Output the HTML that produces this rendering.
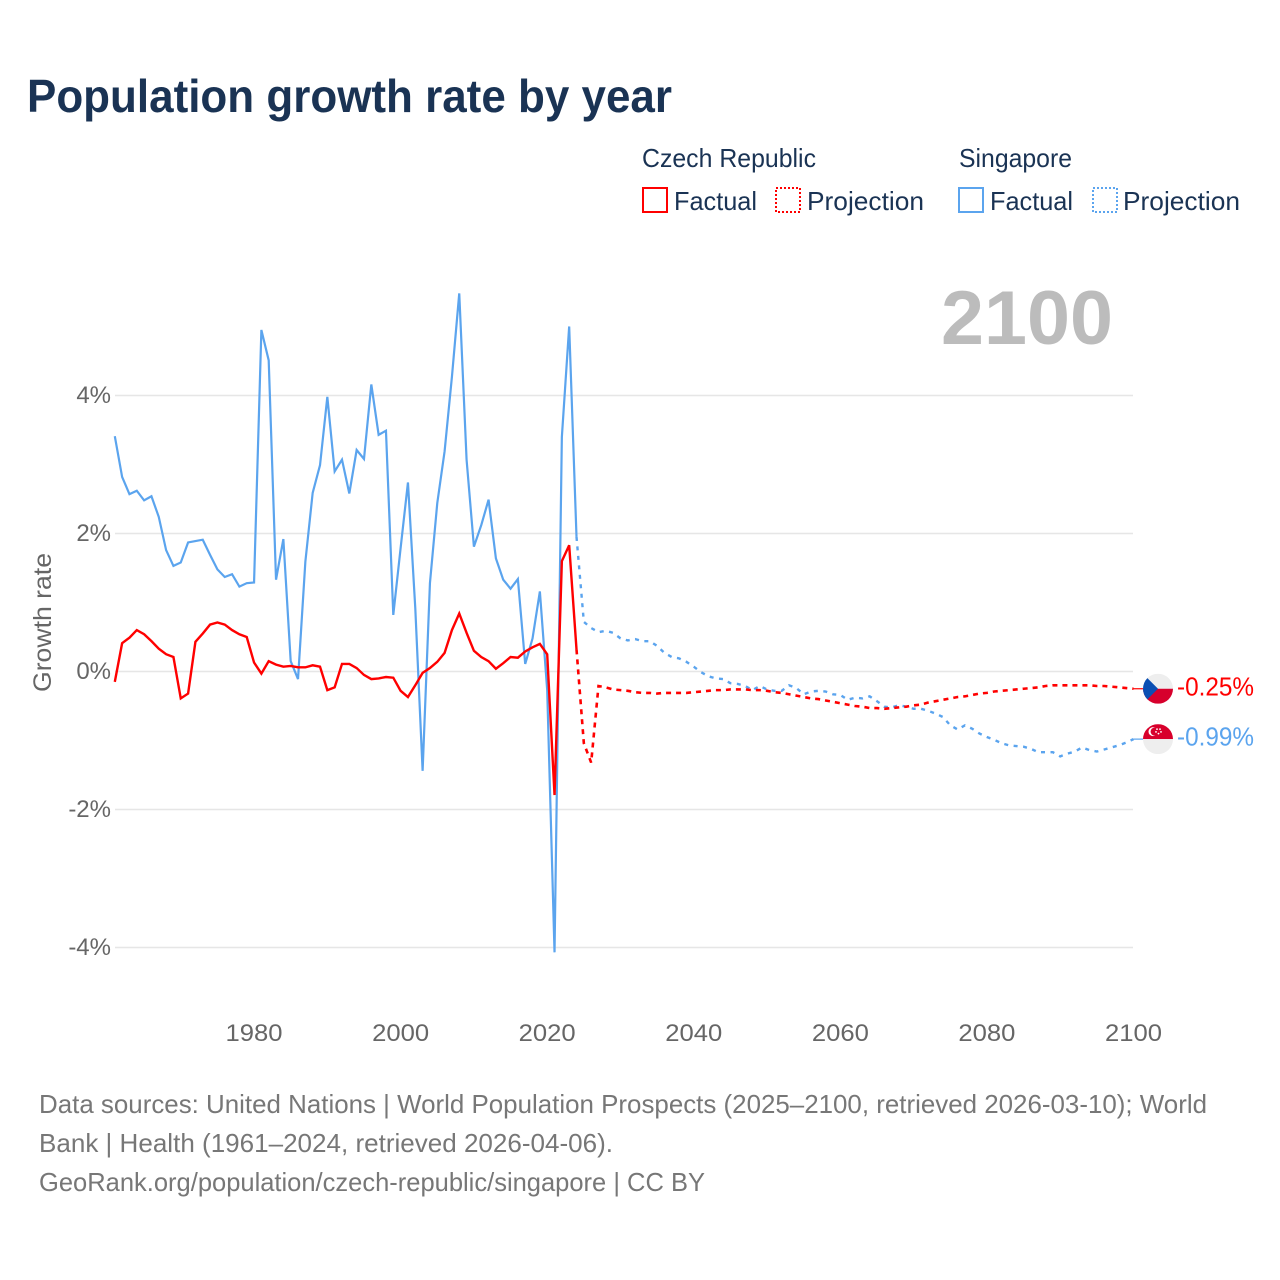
<!DOCTYPE html>
<html lang="en">
<head>
<meta charset="utf-8">
<title>Population growth rate by year</title>
<style>
html,body{margin:0;padding:0;background:#fff;width:1280px;height:1280px;overflow:hidden}
svg{display:block;font-family:"Liberation Sans",sans-serif}
</style>
</head>
<body>
<svg id="chart" xmlns="http://www.w3.org/2000/svg" width="1280" height="1280" viewBox="0 0 1280 1280">
  <defs>
    <clipPath id="flag-clip"><circle cx="0" cy="0" r="15"/></clipPath>
  </defs>
  <rect width="1280" height="1280" fill="#fff"/>
  <text x="27" y="112" font-size="46" font-weight="700" fill="#1a3354" textLength="645" lengthAdjust="spacingAndGlyphs">Population growth rate by year</text>

  <g font-size="26" fill="#1a3354">
    <text x="642" y="167" textLength="174" lengthAdjust="spacingAndGlyphs">Czech Republic</text>
    <text x="959" y="167" textLength="113" lengthAdjust="spacingAndGlyphs">Singapore</text>
    <rect x="643" y="188" width="24" height="24" fill="none" stroke="#ff0000" stroke-width="2"/>
    <text x="674" y="210" textLength="83" lengthAdjust="spacingAndGlyphs">Factual</text>
    <rect x="776" y="188" width="24" height="24" fill="none" stroke="#ff0000" stroke-width="2" stroke-dasharray="2 2"/>
    <text x="807" y="210" textLength="117" lengthAdjust="spacingAndGlyphs">Projection</text>
    <rect x="959" y="188" width="24" height="24" fill="none" stroke="#5ba4ee" stroke-width="2"/>
    <text x="990" y="210" textLength="83" lengthAdjust="spacingAndGlyphs">Factual</text>
    <rect x="1093" y="188" width="24" height="24" fill="none" stroke="#5ba4ee" stroke-width="2" stroke-dasharray="2 2"/>
    <text x="1123" y="210" textLength="117" lengthAdjust="spacingAndGlyphs">Projection</text>
  </g>

  <text x="941" y="344" font-size="76" font-weight="700" fill="#bcbcbc" textLength="172" lengthAdjust="spacingAndGlyphs">2100</text>
  <text transform="translate(51,692) rotate(-90)" font-size="25" fill="#666" textLength="139" lengthAdjust="spacingAndGlyphs">Growth rate</text>

  <g id="grid"></g>
  <g id="y-ticks"></g>
  <g id="x-ticks"></g>
  <g id="series"></g>

  <g id="flag-cz">
    <g clip-path="url(#flag-clip)">
      <rect x="-15" y="-15" width="30" height="15" fill="#eeeeee"/>
      <rect x="-15" y="0" width="30" height="15" fill="#d7002c"/>
      <path d="M-15,-15 L0,0 L-15,15 Z" fill="#0b4fb3"/>
    </g>
  </g>
  <g id="flag-sg">
    <g clip-path="url(#flag-clip)">
      <rect x="-15" y="-15" width="30" height="15" fill="#d8002c"/>
      <rect x="-15" y="0" width="30" height="15" fill="#eeeeee"/>
      <circle cx="-5" cy="-7.5" r="4.5" fill="#fff"/>
      <circle cx="-3.4" cy="-7.5" r="4" fill="#d8002c"/>
      <circle cx="-1" cy="-10" r="0.9" fill="#fff"/>
      <circle cx="2" cy="-10" r="0.9" fill="#fff"/>
      <circle cx="3" cy="-7.2" r="0.9" fill="#fff"/>
      <circle cx="0.5" cy="-5.5" r="0.9" fill="#fff"/>
      <circle cx="-2" cy="-7.2" r="0.9" fill="#fff"/>
    </g>
  </g>
  <text id="end-cz" x="1177" font-size="26" fill="#ff0000" textLength="77" lengthAdjust="spacingAndGlyphs">-0.25%</text>
  <text id="end-sg" x="1177" font-size="26" fill="#5ba4ee" textLength="77" lengthAdjust="spacingAndGlyphs">-0.99%</text>

  <g font-size="26" fill="#777">
    <text x="39" y="1113" textLength="1168" lengthAdjust="spacingAndGlyphs">Data sources: United Nations | World Population Prospects (2025–2100, retrieved 2026-03-10); World</text>
    <text x="39" y="1152" textLength="574" lengthAdjust="spacingAndGlyphs">Bank | Health (1961–2024, retrieved 2026-04-06).</text>
    <text x="39" y="1191" textLength="666" lengthAdjust="spacingAndGlyphs">GeoRank.org/population/czech-republic/singapore | CC BY</text>
  </g>
</svg>
<script>
var firstYear = 1961;
var lastFactualYear = 2024;
var yTickValues = [4, 2, 0, -2, -4];
var yTickLabels = ["4%", "2%", "0%", "-2%", "-4%"];
var xTickValues = [1980, 2000, 2020, 2040, 2060, 2080, 2100];
var czechFactual = [-0.15,0.41,0.49,0.60,0.54,0.44,0.33,0.25,0.21,-0.39,-0.32,0.43,0.55,0.68,0.71,0.68,0.60,0.54,0.50,0.13,-0.03,0.15,0.10,0.07,0.08,0.06,0.06,0.09,0.07,-0.27,-0.23,0.11,0.11,0.05,-0.05,-0.11,-0.10,-0.08,-0.09,-0.28,-0.37,-0.20,-0.02,0.05,0.14,0.27,0.60,0.84,0.56,0.30,0.21,0.15,0.04,0.12,0.21,0.20,0.29,0.35,0.40,0.25,-1.79,1.60,1.83,0.32];
var singaporeFactual = [3.41,2.82,2.57,2.62,2.48,2.54,2.24,1.76,1.53,1.58,1.87,1.89,1.91,1.69,1.48,1.37,1.41,1.23,1.28,1.29,4.95,4.51,1.33,1.92,0.15,-0.11,1.59,2.59,2.99,3.98,2.90,3.07,2.58,3.21,3.08,4.16,3.43,3.49,0.82,1.79,2.74,0.92,-1.44,1.28,2.44,3.19,4.27,5.48,3.07,1.81,2.12,2.49,1.64,1.33,1.20,1.34,0.11,0.48,1.16,-0.27,-4.07,3.40,5.00,1.95];
var czechProjection = [0.32,-1.04,-1.32,-0.21,-0.23,-0.26,-0.27,-0.28,-0.30,-0.31,-0.31,-0.32,-0.31,-0.31,-0.31,-0.31,-0.30,-0.29,-0.28,-0.27,-0.27,-0.26,-0.26,-0.26,-0.27,-0.27,-0.28,-0.30,-0.31,-0.33,-0.35,-0.37,-0.39,-0.40,-0.42,-0.44,-0.46,-0.48,-0.50,-0.51,-0.53,-0.53,-0.54,-0.53,-0.52,-0.51,-0.49,-0.48,-0.45,-0.43,-0.41,-0.39,-0.37,-0.36,-0.34,-0.32,-0.31,-0.29,-0.28,-0.27,-0.26,-0.25,-0.24,-0.23,-0.21,-0.20,-0.20,-0.20,-0.20,-0.20,-0.20,-0.21,-0.21,-0.22,-0.23,-0.24,-0.25];
var singaporeProjection = [1.95,0.72,0.63,0.57,0.59,0.56,0.48,0.45,0.47,0.44,0.44,0.37,0.27,0.21,0.19,0.14,0.07,-0.01,-0.07,-0.10,-0.11,-0.17,-0.18,-0.21,-0.27,-0.21,-0.26,-0.28,-0.28,-0.20,-0.24,-0.33,-0.29,-0.28,-0.29,-0.33,-0.34,-0.41,-0.38,-0.39,-0.36,-0.43,-0.51,-0.52,-0.49,-0.51,-0.54,-0.54,-0.57,-0.61,-0.66,-0.78,-0.84,-0.78,-0.83,-0.90,-0.95,-0.99,-1.04,-1.07,-1.08,-1.09,-1.12,-1.17,-1.17,-1.17,-1.23,-1.19,-1.16,-1.10,-1.14,-1.16,-1.13,-1.10,-1.07,-1.03,-0.98];

var SVGNS = "http://www.w3.org/2000/svg";
function xScale(year) { return 114.8 + (year - 1961) * (1018.7 / 139); }
function yScale(v) { return 671.5 - v * 69; }
function make(tag, parent) {
  var el = document.createElementNS(SVGNS, tag);
  document.getElementById(parent).appendChild(el);
  return el;
}
function linePoints(values, startYear) {
  return values.map(function (v, i) {
    return xScale(startYear + i).toFixed(2) + "," + yScale(v).toFixed(2);
  }).join(" ");
}

yTickValues.forEach(function (v, i) {
  var g = make("line", "grid");
  
  
  g.setAttribute("x1", 115);
  g.setAttribute("x2", 1133);
  g.setAttribute("y1", yScale(v));
  g.setAttribute("y2", yScale(v));
  g.setAttribute("stroke", "#e6e6e6");
  g.setAttribute("stroke-width", "1.5");

  var t = make("text", "y-ticks");
  
  
  t.setAttribute("x", 111);
  t.setAttribute("y", yScale(v) + 7.5);
  t.setAttribute("text-anchor", "end");
  t.setAttribute("font-size", "24");
  t.setAttribute("fill", "#666");
  t.textContent = yTickLabels[i];
});

xTickValues.forEach(function (year) {
  var t = make("text", "x-ticks");
  
  
  t.setAttribute("x", xScale(year));
  t.setAttribute("y", 1041);
  t.setAttribute("text-anchor", "middle");
  t.setAttribute("font-size", "24");
  t.setAttribute("fill", "#666");
  t.setAttribute("textLength", "57");
  t.setAttribute("lengthAdjust", "spacingAndGlyphs");
  t.textContent = String(year);
});

function drawSeries(values, startYear, color, width, dash, name) {
  var p = make("polyline", "series");
  
  
  p.setAttribute("points", linePoints(values, startYear));
  p.setAttribute("fill", "none");
  p.setAttribute("stroke", color);
  p.setAttribute("stroke-width", width);
  p.setAttribute("stroke-linejoin", "miter");
  if (dash) { p.setAttribute("stroke-dasharray", dash); }
}
var RED = "#ff0000";
var BLUE = "#5ba4ee";
drawSeries(singaporeFactual, firstYear, BLUE, "2.2", null, "singapore-factual-line");
drawSeries(singaporeProjection, lastFactualYear, BLUE, "2.4", "4 5.5", "singapore-projection-line");
drawSeries(czechFactual, firstYear, RED, "2.4", null, "czech-factual-line");
drawSeries(czechProjection, lastFactualYear, RED, "2.6", "5 5", "czech-projection-line");

function placeEnd(values, flagId, labelId, color, name) {
  var last = values[values.length - 1];
  var y = yScale(last);
  document.getElementById(flagId).setAttribute("transform", "translate(1158," + y.toFixed(2) + ")");
  document.getElementById(labelId).setAttribute("y", (y + 6.5).toFixed(2));
  var c = make("line", "series");
  
  
  c.setAttribute("x1", xScale(2100));
  c.setAttribute("x2", 1143);
  c.setAttribute("y1", y);
  c.setAttribute("y2", y);
  c.setAttribute("stroke", color);
  c.setAttribute("stroke-width", "1.2");
}
placeEnd(czechProjection, "flag-cz", "end-cz", RED, "czech-end-connector");
placeEnd(singaporeProjection, "flag-sg", "end-sg", BLUE, "singapore-end-connector");
</script>
</body>
</html>
